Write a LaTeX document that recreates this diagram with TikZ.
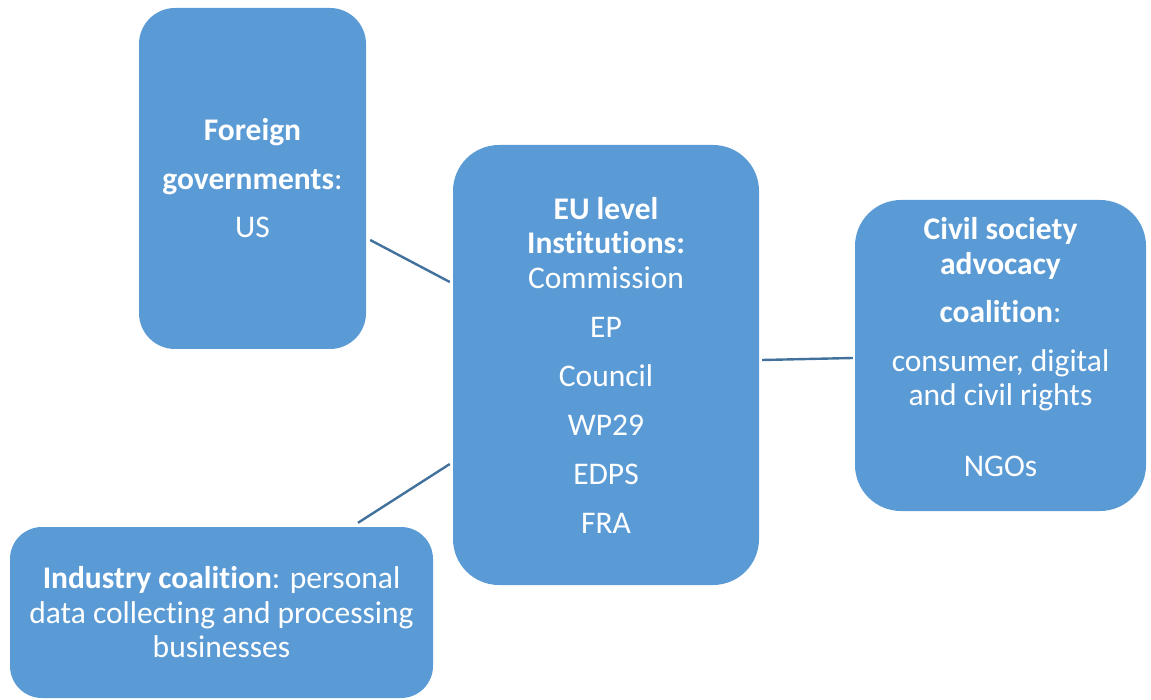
\documentclass[tikz,border=0pt]{standalone}
\usepackage{fontspec}
\setmainfont{Carlito}[Ligatures={NoCommon}]
\definecolor{boxblue}{HTML}{5B9BD5}
\definecolor{linkblue}{HTML}{41719C}
\begin{document}
\begin{tikzpicture}[x=1pt,y=-1pt,
  actor/.style={fill=boxblue, text=white, inner sep=0pt, align=center,
    font=\fontsize{31.5}{34.5}\selectfont},
  link/.style={draw=linkblue, line width=2.4pt}]
\useasboundingbox (0,0) rectangle (1151,700);

\node[actor, rounded corners=36pt, minimum width=227pt, minimum height=341pt]
  (fg) at (252.5,178.5)
  {\textbf{Foreign}\\[14pt]\textbf{governments}:\\[14pt]US};

\node[actor, rounded corners=46pt, minimum width=306pt, minimum height=440pt]
  (eu) at (606,365)
  {\textbf{EU level}\\\textbf{Institutions:}\\Commission\\[14.5pt]EP\\[14.5pt]Council\\[14.5pt]WP29\\[14.5pt]EDPS\\[14.5pt]FRA};

\node[actor, rounded corners=46pt, minimum width=291pt, minimum height=311pt,
  text depth=17pt]
  (cs) at (1000.5,355.5)
  {\textbf{Civil society}\\\textbf{advocacy}\\[14pt]\textbf{coalition}:\\[14pt]consumer, digital\\and civil rights\\[36pt]NGOs};

\node[actor, rounded corners=32pt, minimum width=423pt, minimum height=171pt]
  (ind) at (221.5,612.5)
  {\textbf{Industry coalition}: personal\\data collecting and processing\\businesses};

\draw[link] ([xshift=4pt,yshift=-61.5pt]fg.east) -- ([xshift=-3pt,yshift=83pt]eu.west);
\draw[link] ([xshift=3pt,yshift=5pt]eu.east) -- ([xshift=-2pt,yshift=-2.5pt]cs.west);
\draw[link] ([xshift=136.5pt,yshift=4pt]ind.north) -- ([xshift=-3pt,yshift=-99pt]eu.west);
\end{tikzpicture}
\end{document}
